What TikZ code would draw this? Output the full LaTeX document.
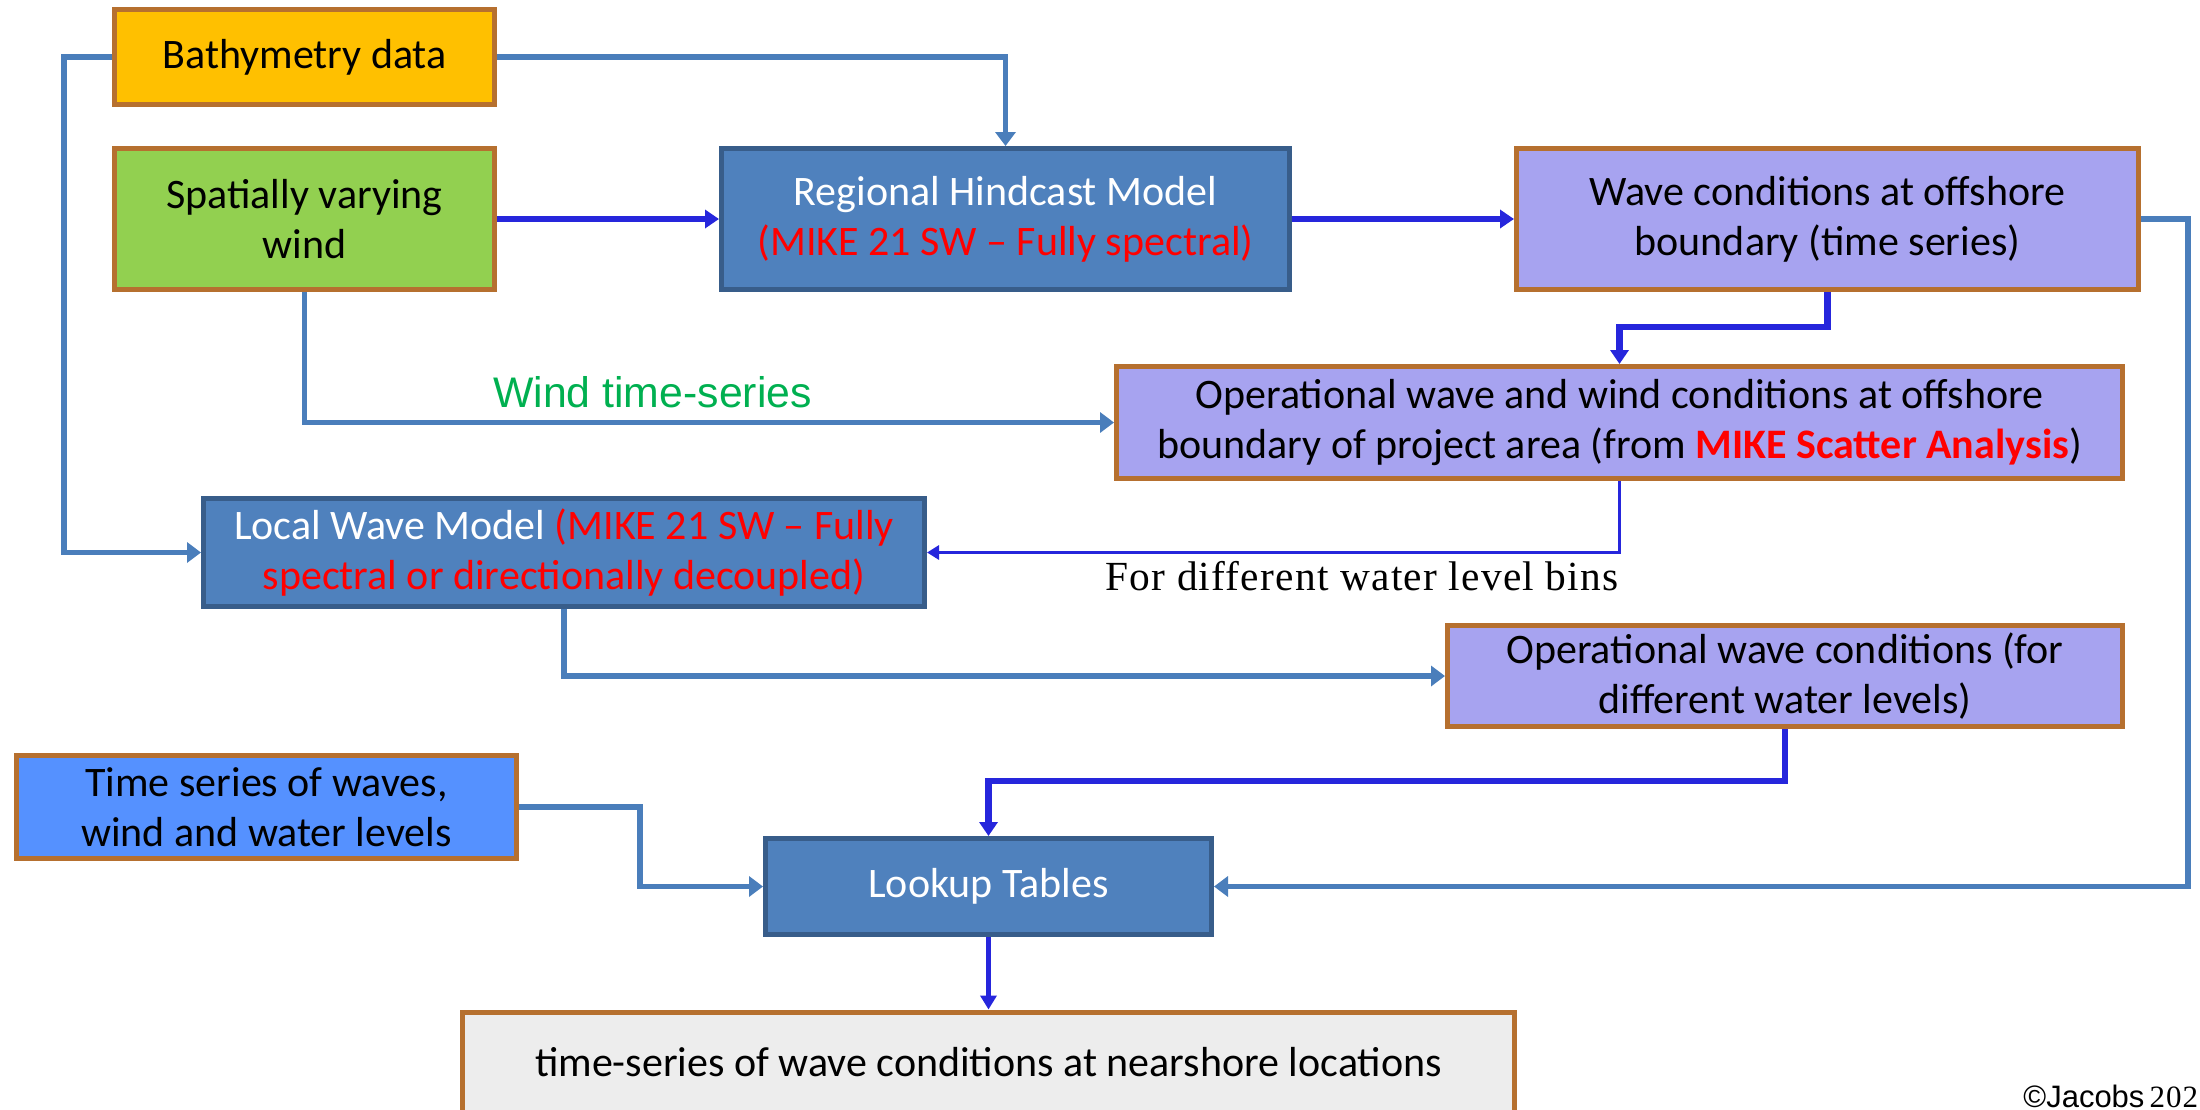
\documentclass[tikz,border=0pt]{standalone}
\usepackage{fontspec}
\setmainfont{Carlito}
\newfontfamily\arialf{Liberation Sans}
\newfontfamily\timesf{Liberation Serif}
\newfontfamily\timesls[LetterSpace=3]{Liberation Serif}
\usetikzlibrary{arrows.meta}
\definecolor{orangefill}{HTML}{FFC000}
\definecolor{greenfill}{HTML}{92D050}
\definecolor{regfill}{HTML}{4F81BD}
\definecolor{regborder}{HTML}{385D8A}
\definecolor{lavfill}{HTML}{A7A3F0}
\definecolor{tsfill}{HTML}{5591FF}
\definecolor{nearfill}{HTML}{EDEDED}
\definecolor{brownb}{HTML}{B6702F}
\definecolor{steel}{HTML}{4A7EBB}
\definecolor{bluearr}{HTML}{2626DC}
\definecolor{greentxt}{HTML}{00B050}
\definecolor{redtxt}{HTML}{FF0000}
\begin{document}
\begin{tikzpicture}[x=0.5pt,y=-0.5pt,
  boxbase/.style={rectangle, line width=2.5pt, align=center, inner sep=0pt,
    font=\fontsize{21}{25}\selectfont},
  brownbox/.style={boxbase, draw=brownb, text=black},
  bluebox/.style={boxbase, draw=regborder, fill=regfill, text=white},
  steelline/.style={draw=steel, line width=2.8pt, line join=miter,
    -{Triangle[width=10pt,length=7pt]}},
  bluethick/.style={draw=bluearr, line width=3.3pt, line join=miter,
    -{Triangle[width=9pt,length=7pt]}},
  bluethin/.style={draw=bluearr, line width=1.8pt, line join=miter,
    -{Triangle[width=7pt,length=6pt]}},
  bluemid/.style={draw=bluearr, line width=2.6pt, line join=miter,
    -{Triangle[width=8pt,length=7pt]}}
]
\useasboundingbox (0,0) rectangle (2200,1109);
\clip (0,0) rectangle (2200,1109);

% nodes
\node[brownbox, fill=orangefill, minimum width=190pt, minimum height=47.5pt] (bath) at (304.5,57) {Bathymetry data};
\node[brownbox, fill=greenfill, minimum width=190pt, minimum height=70.5pt] (wind) at (304.5,219) {Spatially varying\\wind};
\node[bluebox, minimum width=284pt, minimum height=70.5pt] (reg) at (1005.5,219) {Regional Hindcast Model\\{\color{redtxt}(MIKE 21 SW -- Fully spectral)}};
\node[brownbox, fill=lavfill, minimum width=311pt, minimum height=70.5pt] (wave) at (1827.5,219) {Wave conditions at offshore\\boundary (time series)};
\node[brownbox, fill=lavfill, minimum width=503pt, minimum height=56pt] (oper) at (1619.5,422.5) {Operational wave and wind conditions at offshore\\boundary of project area (from {\bfseries\color{redtxt}MIKE Scatter Analysis})};
\node[bluebox, minimum width=360.5pt, minimum height=54pt] (local) at (564,552.5) {Local Wave Model {\color{redtxt}(MIKE 21 SW -- Fully}\\{\color{redtxt}spectral or directionally decoupled)}};
\node[brownbox, fill=lavfill, minimum width=337.5pt, minimum height=50.5pt] (opw) at (1785,676) {Operational wave conditions (for\\different water levels)};
\node[brownbox, fill=tsfill, minimum width=250pt, minimum height=51.5pt] (ts) at (266.5,807) {Time series of waves,\\wind and water levels};
\node[bluebox, minimum width=223pt, minimum height=48pt] (look) at (988.5,886.5) {Lookup Tables};
\node[brownbox, fill=nearfill, minimum width=526pt, minimum height=50pt] (near) at (988.5,1062) {time-series of wave conditions at nearshore locations};

% labels
\node[anchor=base, inner sep=0pt, text=greentxt, font=\arialf\fontsize{21.4}{25}\selectfont] (lblwind) at (652.5,407) {Wind time-series};
\node[anchor=base, inner sep=0pt, text=black, font=\timesls\fontsize{20.7}{25}\selectfont] (lblbins) at (1362,590) {For different water level bins};
\node[anchor=base west, inner sep=0pt, text=black, font=\fontsize{15.5}{18}\selectfont] (copy) at (2023,1107) {{\arialf ©Jacobs}{\timesls\,2021}};

% helper coordinates
\coordinate (lx) at (64,0);
\coordinate (rx) at (2188,0);
\coordinate (tx) at (640,0);
\coordinate (c1) at (1619.5,327);
\coordinate (c3) at (988.5,781);

% connectors
\draw[steelline] (bath.east) -| (reg.north);
\draw[steelline] (bath.west) -- (bath.west -| lx) |- (local.west);
\draw[bluethick] (wind.east) -- (reg.west);
\draw[bluethick] (reg.east) -- (wave.west);
\draw[steelline] (wind.south) |- (oper.west);
\draw[bluethick] (wave.south) |- (c1) -- (oper.north);
\draw[steelline] (wave.east) -- (wave.east -| rx) |- (look.east);
\draw[bluethin] (oper.south) |- (local.east);
\draw[steelline] (local.south) |- (opw.west);
\draw[bluethick] (opw.south) |- (c3) -- (look.north);
\draw[steelline] (ts.east) -- (ts.east -| tx) |- (look.west);
\draw[bluemid] (look.south) -- (near.north);
\end{tikzpicture}
\end{document}
